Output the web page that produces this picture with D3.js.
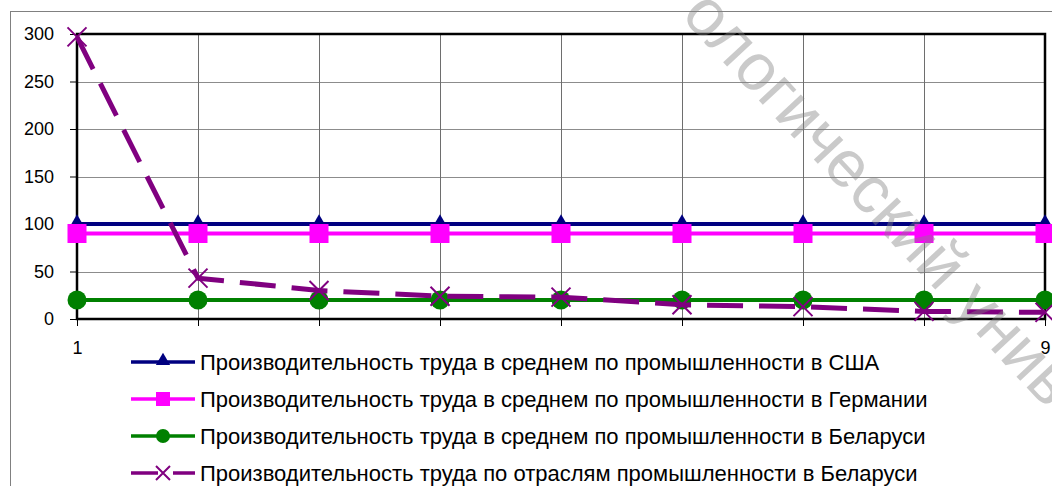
<!DOCTYPE html>
<html>
<head>
<meta charset="utf-8">
<script src="https://cdn.jsdelivr.net/npm/d3@7/dist/d3.min.js"></script>
<style>
  html, body { margin: 0; padding: 0; background: #fff; }
  svg { display: block; font-family: "Liberation Sans", Arial, sans-serif; }
</style>
</head>
<body>
<svg id="chart" width="1052" height="486"></svg>
<script>
// Categories along the x axis
const categories = ["1", "2", "3", "4", "5", "6", "7", "8", "9"];

// Series values
const usa      = [100, 100, 100, 100, 100, 100, 100, 100, 100];
const germany  = [90, 90, 90, 90, 90, 90, 90, 90, 90];
const belarus  = [20, 20, 20, 20, 20, 20, 20, 20, 20];
const sectors  = [297, 43, 30, 24, 23, 15, 13, 8, 7];

// Y axis ticks
const yTicks = [0, 50, 100, 150, 200, 250, 300];

const seriesNames = [
  "Производительность труда в среднем по промышленности в США",
  "Производительность труда в среднем по промышленности в Германии",
  "Производительность труда в среднем по промышленности в Беларуси",
  "Производительность труда по отраслям промышленности в Беларуси"
];

const watermarkText = "ологический университет";

const series = [
  { name: seriesNames[0], values: usa,     color: "#000080", width: 4, dash: null,    marker: "triangle" },
  { name: seriesNames[1], values: germany, color: "#ff00ff", width: 4, dash: null,    marker: "square" },
  { name: seriesNames[2], values: belarus, color: "#008000", width: 4, dash: null,    marker: "circle" },
  { name: seriesNames[3], values: sectors, color: "#800080", width: 5, dash: "36,16", marker: "cross" }
];

const svg = d3.select("#chart");
const plot = { left: 77, right: 1045, top: 34, bottom: 319 };

const x = d3.scalePoint().domain(categories).range([plot.left, plot.right]);
const y = d3.scaleLinear().domain([0, 300]).range([plot.bottom, plot.top]);

// Chart frame
svg.append("rect")
  .attr("x", 10.5).attr("y", 11.5)
  .attr("width", 1200).attr("height", 600)
  .attr("fill", "#fff").attr("stroke", "#808080").attr("stroke-width", 1);

// Grid
const grid = svg.append("g");
grid.selectAll("line.h").data(yTicks.filter(d => d > 0 && d < 300)).join("line")
  .attr("x1", plot.left).attr("x2", plot.right)
  .attr("y1", d => Math.round(y(d)) + 0.5).attr("y2", d => Math.round(y(d)) + 0.5)
  .attr("stroke", "#8c8c8c").attr("stroke-width", 1);
grid.selectAll("line.v").data(categories.slice(1, -1)).join("line")
  .attr("y1", plot.top).attr("y2", plot.bottom)
  .attr("x1", d => Math.round(x(d)) + 0.5).attr("x2", d => Math.round(x(d)) + 0.5)
  .attr("stroke", "#6e6e6e").attr("stroke-width", 1);

// Axes
const yAxis = d3.axisLeft(y).tickValues(yTicks).tickSize(7).tickPadding(16);
const gy = svg.append("g").attr("transform", `translate(${plot.left},0)`).call(yAxis);
gy.select(".domain").remove();
gy.selectAll(".tick line").attr("stroke", "#000");
gy.selectAll(".tick text").attr("font-size", 18).attr("fill", "#000")
  .attr("font-family", "Liberation Sans, Arial, sans-serif");

// Inner category labels sit behind the legend box, so only the end labels show
const lastIdx = categories.length - 1;
const xAxis = d3.axisBottom(x).tickSize(7).tickPadding(15)
  .tickFormat((d, i) => (i === 0 || i === lastIdx) ? d : "");
const gx = svg.append("g").attr("transform", `translate(0,${plot.bottom})`).call(xAxis);
gx.select(".domain").remove();
gx.selectAll(".tick line").attr("stroke", "#000");
gx.selectAll(".tick text").attr("font-size", 18).attr("fill", "#000")
  .attr("font-family", "Liberation Sans, Arial, sans-serif");

// Plot border
svg.append("rect")
  .attr("x", plot.left).attr("y", plot.top)
  .attr("width", plot.right - plot.left).attr("height", plot.bottom - plot.top)
  .attr("fill", "none").attr("stroke", "#000").attr("stroke-width", 2.5);

// Marker shapes
function drawMarker(g, type, cx, cy, color, size) {
  if (type === "triangle") {
    g.append("path")
      .attr("d", d3.symbol().type(d3.symbolTriangle).size(size * size * 0.45)())
      .attr("transform", `translate(${cx},${cy - 1})`)
      .attr("fill", color);
  } else if (type === "square") {
    g.append("rect")
      .attr("x", cx - size / 2).attr("y", cy - size / 2)
      .attr("width", size).attr("height", size)
      .attr("fill", color);
  } else if (type === "circle") {
    g.append("circle").attr("cx", cx).attr("cy", cy).attr("r", size / 2).attr("fill", color);
  } else if (type === "cross") {
    const h = size / 2;
    g.append("path")
      .attr("d", `M${cx - h},${cy - h}L${cx + h},${cy + h}M${cx - h},${cy + h}L${cx + h},${cy - h}`)
      .attr("stroke", color).attr("stroke-width", 2).attr("fill", "none");
  }
}
const markerSize = { triangle: 15, square: 19, circle: 19, cross: 19 };

// Series lines and markers
const line = d3.line().x((d, i) => x(categories[i])).y(d => y(d));
series.forEach(s => {
  const g = svg.append("g");
  g.append("path")
    .attr("d", line(s.values))
    .attr("fill", "none")
    .attr("stroke", s.color)
    .attr("stroke-width", s.width)
    .attr("stroke-dasharray", s.dash)
    .attr("stroke-linejoin", "round");
  s.values.forEach((v, i) => drawMarker(g, s.marker, x(categories[i]), y(v), s.color, markerSize[s.marker]));
});

// Legend
const legend = svg.append("g");
legend.append("rect")
  .attr("x", 115).attr("y", 344).attr("width", 880).attr("height", 142)
  .attr("fill", "#fff");
const legendMarker = { triangle: 14, square: 14, circle: 14, cross: 14 };
series.forEach((s, i) => {
  const cy = 362 + i * 37;
  legend.append("line")
    .attr("x1", 131).attr("x2", 195).attr("y1", cy).attr("y2", cy)
    .attr("stroke", s.color).attr("stroke-width", 3.5)
    .attr("stroke-dasharray", s.dash ? "27,15,22" : null);
  drawMarker(legend, s.marker, 163, cy, s.color, legendMarker[s.marker]);
  legend.append("text")
    .attr("x", 200).attr("y", cy).attr("dy", "0.36em")
    .attr("font-size", 22).attr("fill", "#000")
    .text(s.name);
});

// Watermark
svg.append("text")
  .attr("transform", "translate(680,16) rotate(47)")
  .attr("font-size", 66)
  .attr("fill", "#808080").attr("fill-opacity", 0.42)
  .text(watermarkText);
</script>
</body>
</html>
